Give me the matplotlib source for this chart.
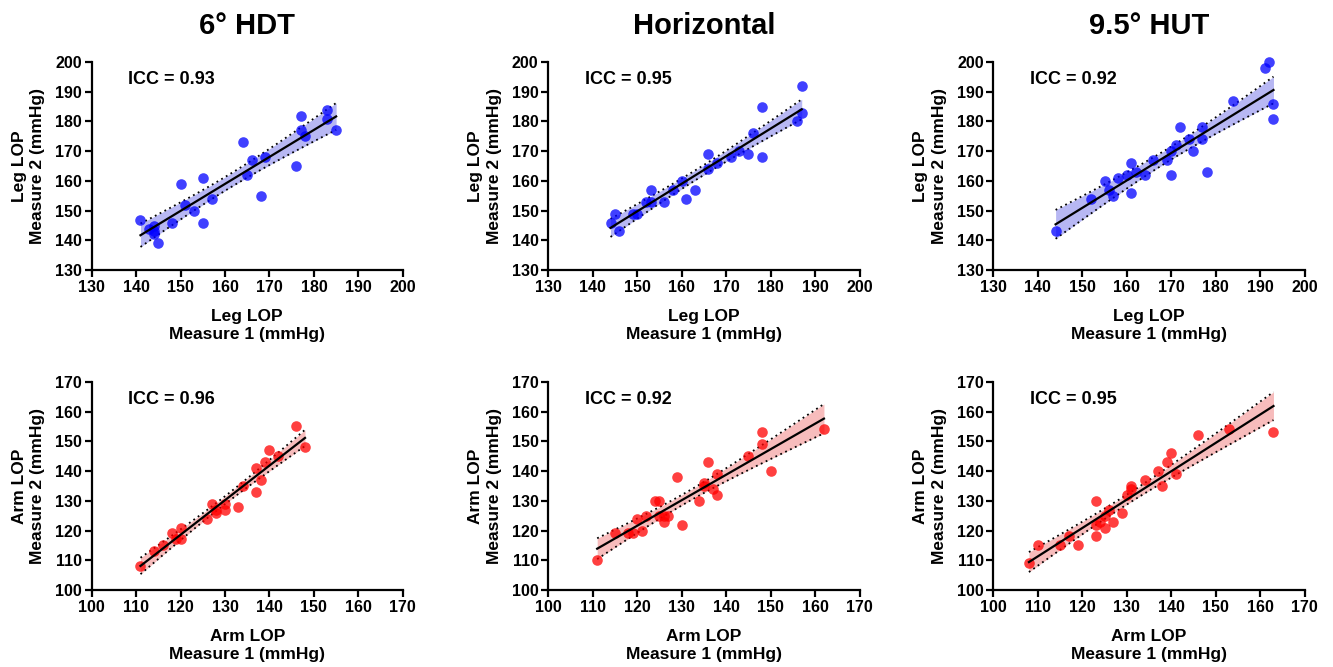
import matplotlib
import numpy as np

matplotlib.use("Agg")

from matplotlib import pyplot as plt  # noqa: E402

plt.rcParams["font.family"] = ["Liberation Sans", "DejaVu Sans"]
plt.rcParams["font.weight"] = "bold"

# --- data ---
titles = ["6° HDT", "Horizontal", "9.5° HUT"]

leg_hdt_x = [141, 143, 144, 144, 144, 145, 148, 150, 151, 153, 155, 155, 157,
             164, 165, 166, 168, 169, 176, 177, 177, 178, 183, 183, 185]
leg_hdt_y = [147, 144, 145, 142, 143, 139, 146, 159, 152, 150, 161, 146, 154,
             173, 162, 167, 155, 168, 165, 182, 177, 175, 184, 181, 177]

leg_hor_x = [144, 145, 146, 149, 150, 152, 153, 153, 156, 158, 160, 161, 163,
             166, 166, 168, 171, 173, 175, 176, 178, 178, 186, 187, 187]
leg_hor_y = [146, 149, 143, 149, 149, 153, 157, 153, 153, 157, 160, 154, 157,
             169, 164, 166, 168, 170, 169, 176, 185, 168, 180, 183, 192]

leg_hut_x = [144, 152, 155, 156, 157, 158, 160, 161, 161, 162, 164, 166, 169,
             170, 170, 171, 172, 174, 175, 177, 177, 178, 184, 191, 192, 193, 193]
leg_hut_y = [143, 154, 160, 157, 155, 161, 162, 166, 156, 163, 162, 167, 167,
             162, 170, 172, 178, 174, 170, 178, 174, 163, 187, 198, 200, 186, 181]

arm_hdt_x = [111, 114, 116, 118, 119, 120, 120, 126, 127, 128, 128, 130, 130,
             133, 134, 137, 137, 138, 139, 140, 142, 146, 148]
arm_hdt_y = [108, 113, 115, 119, 117, 121, 117, 124, 129, 126, 127, 129, 127,
             128, 135, 133, 141, 137, 143, 147, 145, 155, 148]

arm_hor_x = [111, 115, 118, 119, 120, 121, 122, 124, 125, 125, 126, 126, 127,
             129, 130, 134, 135, 135, 136, 137, 138, 138, 145, 148, 148, 150, 162]
arm_hor_y = [110, 119, 119, 119, 124, 120, 125, 130, 130, 125, 123, 125, 125,
             138, 122, 130, 136, 135, 143, 134, 139, 132, 145, 153, 149, 140, 154]

arm_hut_x = [108, 110, 115, 117, 119, 123, 123, 123, 124, 125, 125, 126, 127,
             129, 130, 131, 131, 134, 137, 138, 139, 140, 141, 146, 153, 163]
arm_hut_y = [109, 115, 115, 118, 115, 130, 122, 118, 123, 121, 125, 127, 123,
             126, 132, 135, 134, 137, 140, 135, 143, 146, 139, 152, 154, 153]

icc = [["0.93", "0.95", "0.92"], ["0.96", "0.92", "0.95"]]

panels = [
    [(leg_hdt_x, leg_hdt_y), (leg_hor_x, leg_hor_y), (leg_hut_x, leg_hut_y)],
    [(arm_hdt_x, arm_hdt_y), (arm_hor_x, arm_hor_y), (arm_hut_x, arm_hut_y)],
]
rows = [
    dict(name="Leg LOP", lim=(130, 200), color="#0000ff", band="#9999ee"),
    dict(name="Arm LOP", lim=(100, 170), color="#ff0000", band="#f4a0a0"),
]


def fit_band(x, y):
    x = np.asarray(x, float)
    y = np.asarray(y, float)
    n = len(x)
    b, a = np.polyfit(x, y, 1)
    resid = y - (a + b * x)
    s = np.sqrt(np.sum(resid**2) / (n - 2))
    sxx = np.sum((x - x.mean()) ** 2)
    xs = np.linspace(x.min(), x.max(), 100)
    ys = a + b * xs
    se = s * np.sqrt(1 / n + (xs - x.mean()) ** 2 / sxx)
    t = 2.07  # 95% two-sided, ~23 df
    return xs, ys, ys - t * se, ys + t * se


fig = plt.figure(figsize=(13.33, 6.67), dpi=100)
lefts = [0.0687, 0.4113, 0.7452]
bottoms = [0.595, 0.1155]
w, h = 0.2335, 0.312

for r in range(2):
    for c in range(3):
        ax = fig.add_axes([lefts[c], bottoms[r], w, h])
        x, y = panels[r][c]
        st = rows[r]
        xs, ys, lo, hi = fit_band(x, y)
        ax.fill_between(xs, lo, hi, color=st["band"], alpha=0.7, lw=0, zorder=1)
        ax.plot(xs, lo, color="black", ls=(0, (1, 2)), lw=1.3, zorder=2)
        ax.plot(xs, hi, color="black", ls=(0, (1, 2)), lw=1.3, zorder=2)
        ax.scatter(x, y, s=58, color=st["color"], alpha=0.75, lw=0, zorder=3,
                   clip_on=False)
        ax.plot(xs, ys, color="black", lw=1.6, zorder=4)

        lo_lim, hi_lim = st["lim"]
        ticks = np.arange(lo_lim, hi_lim + 1, 10)
        ax.set_xlim(lo_lim, hi_lim)
        ax.set_ylim(lo_lim, hi_lim)
        ax.set_xticks(ticks)
        ax.set_yticks(ticks)
        for sp in ["top", "right"]:
            ax.spines[sp].set_visible(False)
        for sp in ["left", "bottom"]:
            ax.spines[sp].set_linewidth(1.6)
        ax.tick_params(width=1.6, length=5, labelsize=11.5, pad=2)
        for lab in ax.get_xticklabels() + ax.get_yticklabels():
            lab.set_fontweight("bold")

        ax.set_xlabel(st["name"] + "\nMeasure 1 (mmHg)", fontsize=12.5,
                      fontweight="bold", labelpad=10, linespacing=1.3)
        ax.set_ylabel(st["name"] + "\nMeasure 2 (mmHg)", fontsize=12.5,
                      fontweight="bold", labelpad=7, linespacing=1.3)
        ax.text(0.117, 0.915, "ICC = " + icc[r][c], transform=ax.transAxes,
                fontsize=13, fontweight="bold", va="center", ha="left")
        if r == 0:
            ax.set_title(titles[c], fontsize=21, fontweight="bold", pad=20)

fig.savefig("out.png", dpi=100)
